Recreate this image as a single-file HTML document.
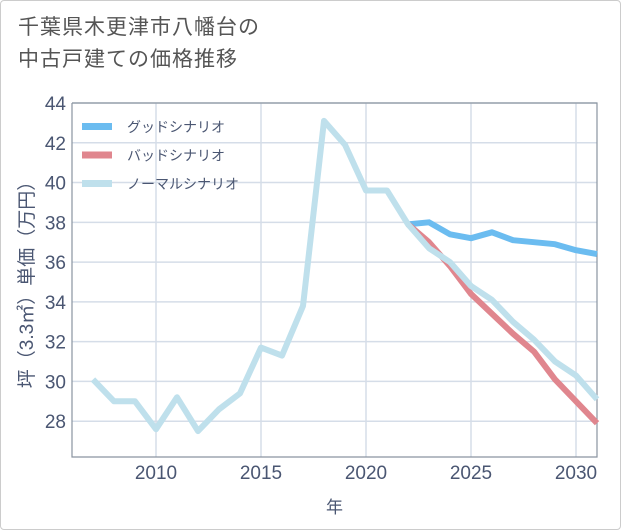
<!DOCTYPE html>
<html><head><meta charset="utf-8"><style>
body{margin:0;background:#fff;font-family:"Liberation Sans","Noto Sans CJK JP",sans-serif}
#card{position:absolute;left:0;top:0;width:619px;height:528px;border:1px solid #ccc;border-radius:4px;background:#fff}
#title{position:absolute;left:18px;top:12px;font-size:21px;line-height:32px;color:#555;letter-spacing:1px}
svg{position:absolute;left:0;top:0}
text{font-family:"Liberation Sans","Noto Sans CJK JP",sans-serif}
</style></head><body>
<div id="card"></div>
<div id="title">千葉県木更津市八幡台の<br>中古戸建ての価格推移</div>
<svg id="chart" width="621" height="530"></svg>
<script>
const years=[2007,2008,2009,2010,2011,2012,2013,2014,2015,2016,2017,2018,2019,2020,2021,2022,2023,2024,2025,2026,2027,2028,2029,2030,2031];
const normalVals=[30.1,29.0,29.0,27.6,29.2,27.5,28.6,29.4,31.7,31.3,33.8,43.1,41.9,39.6,39.6,37.9,36.7,36.0,34.8,34.1,33.0,32.1,31.0,30.3,29.1];
const goodYears=[2022,2023,2024,2025,2026,2027,2028,2029,2030,2031];
const goodVals=[37.9,38.0,37.4,37.2,37.5,37.1,37.0,36.9,36.6,36.4];
const badVals=[37.9,37.0,35.8,34.4,33.4,32.4,31.5,30.1,29.0,27.9];
const xTicks=[2010,2015,2020,2025,2030];
const yTicks=[28,30,32,34,36,38,40,42,44];
const legendLabels=["グッドシナリオ","バッドシナリオ","ノーマルシナリオ"];
const L=72,R=597,T=103,B=457,x0=2006,x1=2031,y0=26.2,y1=44;
const sx=v=>L+(v-x0)/(x1-x0)*(R-L);
const sy=v=>B-(v-y0)/(y1-y0)*(B-T);
const svg=document.getElementById('chart');const NS='http://www.w3.org/2000/svg';
function mk(tag,attrs,parent){const e=document.createElementNS(NS,tag);for(const k in attrs)e.setAttribute(k,attrs[k]);(parent||svg).appendChild(e);return e;}
for(const t of yTicks){
 const g=mk('line',{x1:L,x2:R,y1:sy(t),y2:sy(t),stroke:'#d5dde8','stroke-width':1.5});
 
 
 const tx=mk('text',{x:L-6,y:sy(t)+7,'text-anchor':'end','font-size':19,fill:'#4a5672'});tx.textContent=t;
 
 
}
for(const t of xTicks){
 const g=mk('line',{x1:sx(t),x2:sx(t),y1:T,y2:B,stroke:'#d5dde8','stroke-width':1.5});
 
 
 const tx=mk('text',{x:sx(t),y:B+22,'text-anchor':'middle','font-size':19,fill:'#4a5672'});tx.textContent=t;
 
 
}
const ax=mk('path',{d:`M${L},${T}V${B}H${R}V${T}H${L}`,fill:'none',stroke:'#8a94a0','stroke-width':1.2});


const xt=mk('text',{x:(L+R)/2,y:513,'text-anchor':'middle','font-size':17,fill:'#4a5672'});xt.textContent='年';


const yt=mk('text',{x:0,y:0,'text-anchor':'middle','font-size':19,fill:'#4a5672',transform:`translate(33,${(T+B)/2}) rotate(-90)`});yt.textContent='坪（3.3㎡）単価（万円）';


function line(xs,vs,color,name){
 const d=xs.map((x,i)=>(i?'L':'M')+sx(x).toFixed(1)+','+sy(vs[i]).toFixed(1)).join('');
 const p=mk('path',{d,fill:'none',stroke:color,'stroke-width':6,'stroke-linejoin':'round'});
 
 
}
line(goodYears,goodVals,'#6bbcf0','good-scenario-line');
line(goodYears,badVals,'#e0868e','bad-scenario-line');
line(years,normalVals,'#bfe0ec','normal-scenario-line');
const colors=['#6bbcf0','#e0868e','#bfe0ec'];
legendLabels.forEach((lab,i)=>{
 const y=126+i*28.5;
 const r=mk('rect',{x:82,y:y-3,width:30,height:7,fill:colors[i]});
 
 
 const t=mk('text',{x:127,y:y+6,'font-size':14,fill:'#4a5672'});t.textContent=lab;
 
 
});
</script>
</body></html>
